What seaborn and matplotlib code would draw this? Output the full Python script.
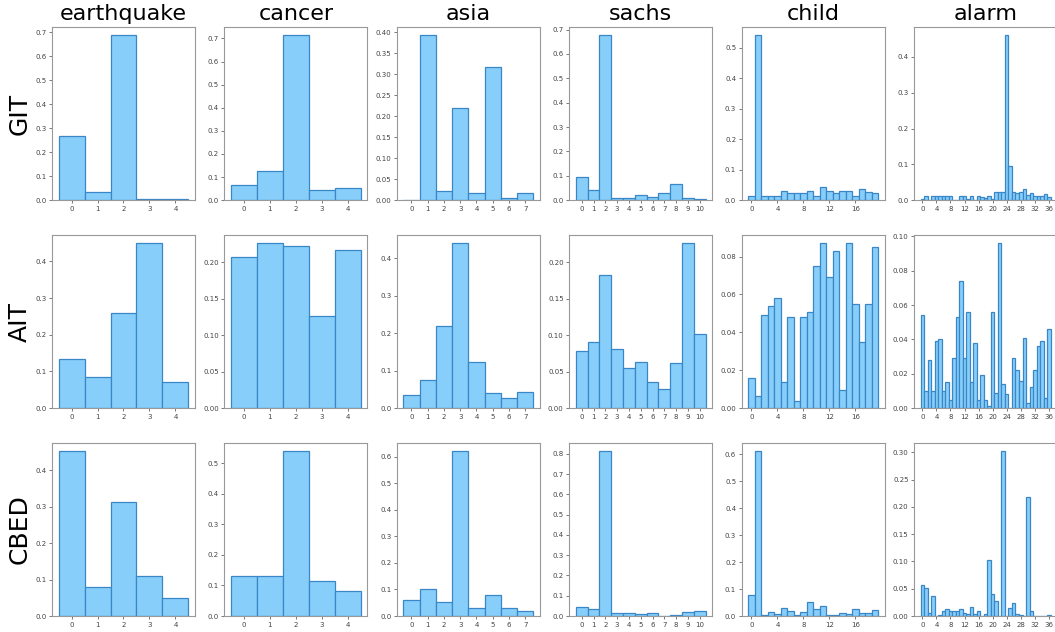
import numpy as np
import pandas as pd
import matplotlib
matplotlib.use("Agg")
import matplotlib.pyplot as plt
import seaborn as sns

datasets = ["earthquake", "cancer", "asia", "sachs", "child", "alarm"]
methods = ["GIT", "AIT", "CBED"]

earthquake_git = [0.268, 0.033, 0.686, 0.003, 0.006]
earthquake_ait = [0.135, 0.084, 0.258, 0.449, 0.071]
earthquake_cbed = [0.452, 0.079, 0.313, 0.111, 0.049]

cancer_git = [0.064, 0.125, 0.713, 0.043, 0.054]
cancer_ait = [0.207, 0.226, 0.223, 0.126, 0.217]
cancer_cbed = [0.131, 0.131, 0.539, 0.116, 0.082]

asia_git = [0.001, 0.392, 0.022, 0.220, 0.018, 0.316, 0.006, 0.017]
asia_ait = [0.036, 0.074, 0.218, 0.440, 0.122, 0.039, 0.026, 0.042]
asia_cbed = [0.061, 0.103, 0.054, 0.620, 0.031, 0.080, 0.031, 0.017]

sachs_git = [0.093, 0.043, 0.676, 0.008, 0.010, 0.022, 0.015, 0.030, 0.067, 0.010, 0.006]
sachs_ait = [0.078, 0.091, 0.183, 0.081, 0.055, 0.063, 0.036, 0.026, 0.062, 0.226, 0.101]
sachs_cbed = [0.046, 0.034, 0.813, 0.015, 0.013, 0.011, 0.013, 0.002, 0.007, 0.021, 0.026]

child_git = [0.015, 0.540, 0.015, 0.012, 0.015, 0.030, 0.025, 0.022, 0.022, 0.030,
             0.015, 0.042, 0.030, 0.022, 0.030, 0.030, 0.012, 0.035, 0.028, 0.022]
child_ait = [0.016, 0.0065, 0.049, 0.054, 0.058, 0.014, 0.048, 0.0035, 0.048, 0.051,
             0.075, 0.087, 0.069, 0.083, 0.0095, 0.087, 0.055, 0.035, 0.055, 0.085]
child_cbed = [0.077, 0.611, 0.005, 0.015, 0.009, 0.030, 0.020, 0.005, 0.015, 0.052,
              0.027, 0.036, 0.004, 0.004, 0.010, 0.006, 0.026, 0.010, 0.010, 0.022]

alarm_git = [0.003, 0.012, 0.0, 0.012, 0.013, 0.012, 0.012, 0.012, 0.012, 0.0,
             0.0, 0.012, 0.013, 0.004, 0.012, 0.0, 0.012, 0.008, 0.005, 0.012,
             0.003, 0.024, 0.024, 0.024, 0.460, 0.095, 0.022, 0.019, 0.022, 0.032,
             0.014, 0.020, 0.012, 0.012, 0.011, 0.018, 0.008]
alarm_ait = [0.054, 0.010, 0.028, 0.010, 0.039, 0.040, 0.010, 0.015, 0.005, 0.029,
             0.053, 0.074, 0.029, 0.056, 0.015, 0.038, 0.005, 0.019, 0.005, 0.001,
             0.056, 0.009, 0.096, 0.014, 0.008, 0.0, 0.029, 0.022, 0.016, 0.041,
             0.003, 0.012, 0.022, 0.036, 0.039, 0.006, 0.046]
alarm_cbed = [0.057, 0.051, 0.005, 0.036, 0.0, 0.001, 0.010, 0.012, 0.010, 0.009,
              0.010, 0.012, 0.005, 0.004, 0.017, 0.004, 0.010, 0.0, 0.004, 0.103,
              0.041, 0.027, 0.0, 0.302, 0.0, 0.015, 0.023, 0.004, 0.002, 0.0,
              0.218, 0.010, 0.0, 0.0005, 0.0, 0.0, 0.002]

data = {
    "earthquake": [earthquake_git, earthquake_ait, earthquake_cbed],
    "cancer": [cancer_git, cancer_ait, cancer_cbed],
    "asia": [asia_git, asia_ait, asia_cbed],
    "sachs": [sachs_git, sachs_ait, sachs_cbed],
    "child": [child_git, child_ait, child_cbed],
    "alarm": [alarm_git, alarm_ait, alarm_cbed],
}
tick_step = {"earthquake": 1, "cancer": 1, "asia": 1, "sachs": 1, "child": 4, "alarm": 4}

sns.set_theme(style="ticks")
plt.rcParams["font.family"] = ["DejaVu Sans"]

fig, axes = plt.subplots(3, 6, figsize=(10.55, 6.32), dpi=100)
fig.subplots_adjust(left=0.0493, right=1.002, bottom=0.0253, top=0.957,
                    wspace=0.206, hspace=0.202)

fill = "#87CEFA"
edge = "#3a87c8"

for c, name in enumerate(datasets):
    for r, m in enumerate(methods):
        ax = axes[r, c]
        vals = data[name][r]
        df = pd.DataFrame({"state": np.arange(len(vals)), "p": vals})
        sns.histplot(data=df, x="state", weights="p", discrete=True, ax=ax,
                     color=fill, edgecolor=edge, linewidth=0.9, alpha=1.0)
        ax.set_xlabel("")
        ax.set_ylabel("")
        ax.set_xticks(np.arange(0, len(vals), tick_step[name]))
        ax.tick_params(axis="both", labelsize=5, length=2, width=0.5,
                       colors="#444444", pad=2)
        for sp in ax.spines.values():
            sp.set_visible(True)
            sp.set_color("#999999")
            sp.set_linewidth(0.8)
        if r == 0:
            ax.set_title(name, fontsize=16, pad=5, color="black")

row_centers = [113.5, 321.5, 529.5]
for m, yc in zip(methods, row_centers):
    fig.text(20 / 1055, 1 - yc / 632, m, rotation=90, fontsize=18,
             ha="center", va="center", color="black")

fig.savefig("out.png", dpi=100)
